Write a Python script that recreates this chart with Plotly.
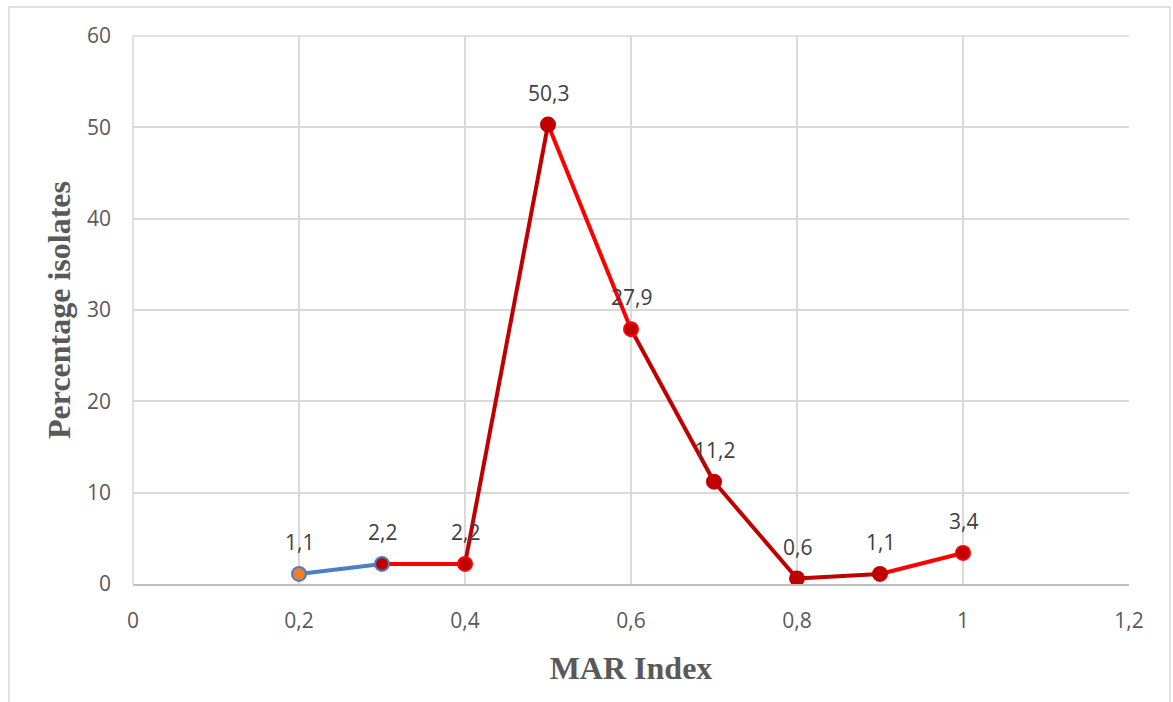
import plotly.graph_objects as go

# MAR index values and the share of isolates at each
mar_index = [0.2, 0.3, 0.4, 0.5, 0.6, 0.7, 0.8, 0.9, 1.0]
pct_isolates = [1.1, 2.2, 2.2, 50.3, 27.9, 11.2, 0.6, 1.1, 3.4]

# colour of each connecting segment (one fewer than points)
segment_colors = ["#4a7fc1", "#ff0000", "#c00000", "#ff0000",
                  "#c00000", "#c00000", "#c00000", "#ff0000"]
marker_fill = ["#ed7d31", "#c00000", "#c00000", "#c00000", "#c00000",
               "#c00000", "#c00000", "#c00000", "#c00000"]
marker_edge = ["#4a7fc1", "#4a7fc1", "#ff0000", "#c00000", "#ff0000",
               "#c00000", "#c00000", "#c00000", "#ff0000"]

fig = go.Figure()

for i, col in enumerate(segment_colors):
    fig.add_trace(go.Scatter(
        x=mar_index[i:i + 2], y=pct_isolates[i:i + 2],
        mode="lines", line=dict(color=col, width=4),
        hoverinfo="skip", showlegend=False,
    ))

fig.add_trace(go.Scatter(
    x=mar_index, y=pct_isolates, mode="markers",
    marker=dict(size=14, color=marker_fill,
                line=dict(color=marker_edge, width=2)),
    showlegend=False,
))

for xv, yv in zip(mar_index, pct_isolates):
    fig.add_annotation(
        x=xv, y=yv, text=f"{yv:.1f}".replace(".", ","),
        showarrow=False, yshift=32, yanchor="middle",
        font=dict(family="Open Sans", size=21, color="#404040"),
    )

# outer chart frame
fig.add_shape(type="rect", xref="paper", yref="paper",
              x0=-0.1245, x1=1.0412, y0=-0.3, y1=1.0529,
              line=dict(color="#d9d9d9", width=1.5), layer="below")
# plot-area edges at x=0 and y=60
fig.add_shape(type="line", xref="paper", yref="paper",
              x0=0, x1=0, y0=0, y1=1,
              line=dict(color="#d9d9d9", width=1.5), layer="below")
fig.add_shape(type="line", xref="paper", yref="paper",
              x0=0, x1=1, y0=1, y1=1,
              line=dict(color="#d9d9d9", width=1.5), layer="below")

tick_font = dict(family="Open Sans", size=21, color="#595959")
title_font = dict(family="Liberation Serif", size=32, color="#595959")

fig.update_layout(
    width=1173, height=702,
    margin=dict(l=133, r=44, t=36, b=118),
    paper_bgcolor="white", plot_bgcolor="white",
    separators=", ",
    xaxis=dict(
        range=[0, 1.2], dtick=0.2, tick0=0,
        showgrid=True, gridcolor="#d9d9d9", gridwidth=1.5,
        showline=True, linecolor="#bfbfbf", linewidth=1.5,
        zeroline=False, ticks="", tickfont=tick_font,
        ticklabelstandoff=17,
        title=dict(text="<b>MAR Index</b>", font=title_font, standoff=24),
    ),
    yaxis=dict(
        range=[0, 60], dtick=10,
        showgrid=True, gridcolor="#d9d9d9", gridwidth=1.5,
        showline=False, zeroline=False, ticks="", tickfont=tick_font,
        ticklabelstandoff=21,
        title=dict(text="<b>Percentage isolates</b>", font=title_font, standoff=6),
    ),
)

fig.write_html("out.html")
